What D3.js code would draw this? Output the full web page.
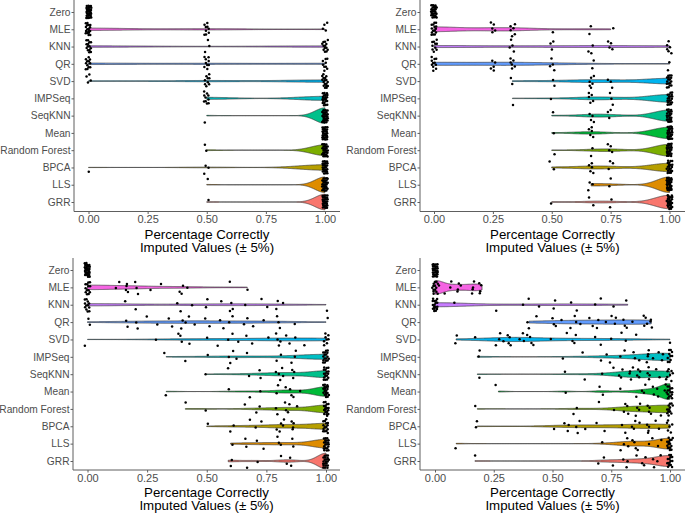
<!DOCTYPE html>
<html><head><meta charset="utf-8">
<script src="https://cdn.jsdelivr.net/npm/d3@7"></script>
<style>
body{margin:0;background:#fff}
svg{display:block}
text{font-family:"Liberation Sans",Arial,Helvetica,sans-serif}
</style>
</head><body>
<svg id="chart" width="685" height="513"></svg>
<script>
// ---------- data ----------
const methods = ["Zero","MLE","KNN","QR","SVD","IMPSeq","SeqKNN","Mean","Random Forest","BPCA","LLS","GRR"];
const methodColors = ["#FF64B0","#F564E3","#C77CFF","#619CFF","#00B4F0","#00BFC4","#00C08B","#00BA38","#7CAE00","#B79F00","#DE8C00","#F8766D"];
const xTicks = [0, 0.25, 0.5, 0.75, 1];
const xTickLabels = ["0.00","0.25","0.50","0.75","1.00"];
const titleLines = ["Percentage Correctly", "Imputed Values (\u00B1 5%)"];

// top-left panel
const panelA = [
  [0,0,0,0,0,0,0,0,0,0,0,0,0,0,0,0,0,0,0,0,0,0,0,0,0,0,0,0,0,0],
  [0,0,0,0,0,0,0,0,0,0,0,0,0,0,0,0,0,0.5,0.5,0.5,0.5,0.5,0.5,0.5,0.5,0.5,1,1,1,1],
  [0,0,0,0,0,0,0,0,0,0,0,0,0,0,0.5,0.5,0.5,1,1,1,1,1,1,1,1,1,1,1,1,1],
  [0,0,0,0,0,0,0,0,0,0,0,0,0.5,0.5,0.5,0.5,0.5,0.5,0.5,0.5,0.5,1,1,1,1,1,1,1,1,1],
  [0,0,0,0,0.5,0.5,0.5,0.5,0.5,0.5,0.5,0.5,0.5,1,1,1,1,1,1,1,1,1,1,1,1,1,1,1,1,1],
  [0.5,0.5,0.5,0.5,0.5,0.5,0.5,0.5,0.5,0.5,1,1,1,1,1,1,1,1,1,1,1,1,1,1,1,1,1,1,1,1],
  [0.5,1,1,1,1,1,1,1,1,1,1,1,1,1,1,1,1,1,1,1,1,1,1,1,1,1,1,1,1,1],
  [1,1,1,1,1,1,1,1,1,1,1,1,1,1,1,1,1,1,1,1,1,1,1,1,1,1,1,1,1,1],
  [0.5,0.5,1,1,1,1,1,1,1,1,1,1,1,1,1,1,1,1,1,1,1,1,1,1,1,1,1,1,1,1],
  [0,0.5,0.5,0.5,1,1,1,1,1,1,1,1,1,1,1,1,1,1,1,1,1,1,1,1,1,1,1,1,1,1],
  [0.5,1,1,1,1,1,1,1,1,1,1,1,1,1,1,1,1,1,1,1,1,1,1,1,1,1,1,1,1,1],
  [0.5,1,1,1,1,1,1,1,1,1,1,1,1,1,1,1,1,1,1,1,1,1,1,1,1,1,1,1,1,1]
];
// top-right panel
const panelB = [
  [0,0,0,0,0,0,0,0,0,0,0,0,0,0,0,0,0,0,0,0,0,0,0,0,0,0,0,0,0,0],
  [0,0,0,0,0,0,0,0,0,0,0,0,0,0,0,0.25,0.25,0.25,0.25,0.25,0.333,0.333,0.333,0.333,0.333,0.333,0.5,0.667,0.667,0.75],
  [0,0,0,0,0,0,0,0,0,0,0.333,0.333,0.333,0.333,0.5,0.5,0.5,0.667,0.667,0.667,0.75,0.75,0.75,0.75,1,1,1,1,1,1],
  [0,0,0,0,0,0,0,0,0,0,0,0.25,0.25,0.25,0.25,0.25,0.333,0.333,0.333,0.333,0.333,0.333,0.5,0.5,0.5,0.5,0.667,0.667,1,1],
  [0.333,0.333,0.5,0.5,0.667,0.667,0.667,0.667,0.667,0.667,0.75,0.75,0.75,1,1,1,1,1,1,1,1,1,1,1,1,1,1,1,1,1],
  [0.333,0.5,0.667,0.667,0.667,0.667,0.667,0.75,0.75,0.75,1,1,1,1,1,1,1,1,1,1,1,1,1,1,1,1,1,1,1,1],
  [0.5,0.667,0.667,0.667,0.667,0.75,0.75,0.75,1,1,1,1,1,1,1,1,1,1,1,1,1,1,1,1,1,1,1,1,1,1],
  [0.5,0.667,0.667,0.667,0.667,0.667,1,1,1,1,1,1,1,1,1,1,1,1,1,1,1,1,1,1,1,1,1,1,1,1],
  [0.5,0.667,0.667,0.75,0.75,0.75,0.75,1,1,1,1,1,1,1,1,1,1,1,1,1,1,1,1,1,1,1,1,1,1,1],
  [0.5,0.5,0.667,0.667,0.667,0.667,0.667,0.75,0.75,0.75,1,1,1,1,1,1,1,1,1,1,1,1,1,1,1,1,1,1,1,1],
  [0.667,0.667,0.667,0.75,0.75,1,1,1,1,1,1,1,1,1,1,1,1,1,1,1,1,1,1,1,1,1,1,1,1,1],
  [0.5,0.667,0.667,0.75,0.75,1,1,1,1,1,1,1,1,1,1,1,1,1,1,1,1,1,1,1,1,1,1,1,1,1]
];
// bottom-left panel
const panelC = [
  [0,0,0,0,0,0,0,0,0,0,0,0,0,0,0,0,0,0,0,0,0,0,0,0,0,0,0,0,0,0],
  [0,0,0,0,0,0,0,0,0,0,0,0,0,0.12,0.14,0.15,0.16,0.17,0.17,0.2,0.2,0.2,0.27,0.32,0.38,0.4,0.4,0.43,0.59,0.67],
  [0,0,0,0,0,0,0,0,0,0,0,0,0.15,0.2,0.38,0.4,0.43,0.5,0.5,0.57,0.6,0.6,0.6,0.67,0.72,0.75,0.8,0.8,0.81,1],
  [0,0,0.17,0.17,0.2,0.2,0.25,0.3,0.33,0.35,0.4,0.4,0.4,0.42,0.45,0.5,0.5,0.55,0.57,0.6,0.62,0.65,0.67,0.7,0.75,0.8,0.8,0.8,0.88,1],
  [0,0.28,0.38,0.4,0.4,0.42,0.5,0.55,0.6,0.6,0.63,0.67,0.7,0.75,0.8,0.8,0.8,0.8,0.83,0.85,0.88,0.9,1,1,1,1,1,1,1,1],
  [0.33,0.4,0.5,0.6,0.6,0.6,0.62,0.67,0.8,0.8,0.85,0.87,0.88,1,1,1,1,1,1,1,1,1,1,1,1,1,1,1,1,1],
  [0.5,0.6,0.67,0.72,0.73,0.8,0.8,0.8,0.82,0.83,0.85,0.86,0.87,1,1,1,1,1,1,1,1,1,1,1,1,1,1,1,1,1],
  [0.33,0.6,0.67,0.72,0.8,0.8,0.82,0.85,0.85,0.87,0.88,1,1,1,1,1,1,1,1,1,1,1,1,1,1,1,1,1,1,1],
  [0.41,0.5,0.67,0.7,0.72,0.8,0.8,0.82,0.83,0.85,0.85,0.87,1,1,1,1,1,1,1,1,1,1,1,1,1,1,1,1,1,1],
  [0.5,0.6,0.62,0.67,0.7,0.73,0.8,0.8,0.8,0.82,0.83,0.85,0.85,0.86,0.87,1,1,1,1,1,1,1,1,1,1,1,1,1,1,1],
  [0.6,0.66,0.67,0.72,0.73,0.8,0.8,0.82,0.85,0.86,1,1,1,1,1,1,1,1,1,1,1,1,1,1,1,1,1,1,1,1],
  [0.59,0.6,0.67,0.72,0.8,0.83,0.85,0.86,1,1,1,1,1,1,1,1,1,1,1,1,1,1,1,1,1,1,1,1,1,1]
];
// bottom-right panel
const panelD = [
  [0,0,0,0,0,0,0,0,0,0,0,0,0,0,0,0,0,0,0,0,0,0,0,0,0,0,0,0,0,0],
  [0,0,0,0,0,0,0,0,0,0,0,0,0,0.005,0.01,0.04,0.07,0.08,0.09,0.1,0.1,0.12,0.15,0.16,0.17,0.17,0.18,0.19,0.2,0.2],
  [0,0,0,0,0,0,0,0,0,0,0,0,0,0,0,0,0,0.09,0.25,0.37,0.4,0.45,0.5,0.5,0.58,0.61,0.67,0.7,0.76,0.82],
  [0.4,0.4,0.42,0.5,0.5,0.52,0.55,0.57,0.6,0.6,0.63,0.65,0.67,0.7,0.7,0.72,0.75,0.77,0.78,0.8,0.8,0.82,0.85,0.88,0.9,0.9,0.9,0.91,0.92,0.92],
  [0.09,0.09,0.18,0.25,0.27,0.28,0.3,0.3,0.31,0.32,0.33,0.35,0.37,0.38,0.4,0.4,0.4,0.42,0.5,0.55,0.58,0.6,0.6,0.67,0.7,0.75,0.8,0.8,0.85,1],
  [0.18,0.19,0.55,0.64,0.7,0.73,0.75,0.8,0.8,0.85,0.85,0.88,0.9,0.9,0.91,0.92,0.92,0.95,0.97,0.98,0.99,1,1,1,1,1,1,1,1,1],
  [0.18,0.55,0.64,0.72,0.75,0.78,0.8,0.8,0.82,0.83,0.83,0.85,0.85,0.86,0.87,0.88,0.9,0.9,0.91,0.92,0.93,0.95,0.99,0.99,1,1,1,1,1,1],
  [0.27,0.55,0.7,0.72,0.8,0.85,0.88,0.9,0.9,0.92,0.93,0.95,0.96,0.97,0.98,0.99,1,1,1,1,1,1,1,1,1,1,1,1,1,1],
  [0.18,0.58,0.6,0.7,0.77,0.8,0.8,0.82,0.83,0.85,0.85,0.87,0.88,0.9,0.9,0.92,0.92,0.95,0.99,1,1,1,1,1,1,1,1,1,1,1],
  [0.18,0.19,0.5,0.55,0.57,0.58,0.6,0.6,0.62,0.65,0.68,0.72,0.8,0.82,0.83,0.85,0.85,0.88,0.9,0.9,0.91,0.92,0.93,0.95,0.99,1,1,1,1,1],
  [0.09,0.72,0.78,0.8,0.82,0.83,0.83,0.85,0.85,0.87,0.9,0.92,0.95,0.97,0.98,0.99,1,1,1,1,1,1,1,1,1,1,1,1,1,1],
  [0.17,0.7,0.73,0.75,0.8,0.82,0.83,0.85,0.88,0.9,0.9,0.92,0.93,0.95,0.97,0.98,1,1,1,1,1,1,1,1,1,1,1,1,1,1]
];

// ---------- layout ----------
const panels = [
  {data: panelA, axisX: 74,  x0: 88.5, x1: 325,   right: 340, yTop: 12,  yBot: 202, axisTop: 0,   axisBottom: 211.5, titleY: 238.5},
  {data: panelB, axisX: 420, x0: 434,  x1: 669.5, right: 685, yTop: 12,  yBot: 202, axisTop: 0,   axisBottom: 211.5, titleY: 238.5},
  {data: panelC, axisX: 73,  x0: 87.5, x1: 326,   right: 340, yTop: 270, yBot: 461, axisTop: 258, axisBottom: 470, titleY: 496.5},
  {data: panelD, axisX: 420, x0: 435,  x1: 670,   right: 685, yTop: 270, yBot: 461, axisTop: 258, axisBottom: 470, titleY: 496.5}
];

// ---------- helpers ----------
function bwNrd0(v) {
  const s = v.slice().sort(d3.ascending);
  const hi = d3.deviation(s) || 0;
  const iqr = d3.quantileSorted(s, 0.75) - d3.quantileSorted(s, 0.25);
  let lo = Math.min(hi, iqr / 1.34);
  if (!lo) lo = hi || Math.abs(s[0]) || 1;
  return 0.9 * lo * Math.pow(s.length, -0.2);
}
function kde(v) {
  const bw = bwNrd0(v);
  const mn = d3.min(v), mx = d3.max(v);
  const N = 512, out = [];
  const norm = v.length * bw * Math.sqrt(2 * Math.PI);
  for (let k = 0; k < N; k++) {
    const t = mn + (mx - mn) * k / (N - 1);
    let s = 0;
    for (const x of v) { const z = (t - x) / bw; s += Math.exp(-0.5 * z * z); }
    out.push([t, s / norm]);
  }
  return out;
}
// deterministic jitter offsets in [-0.5, 0.5)
function jit(i, g, a, b) { const f = (i * a + g * b + 0.37) % 1; return f - 0.5; }

const svg = d3.select("#chart");
const textCol = "#4d4d4d";
const lineCol = "#5e5e5e";

panels.forEach((p, pi) => {
  const g = svg.append("g");
  const x = d3.scaleLinear().domain([0, 1]).range([p.x0, p.x1]);
  const y = d3.scalePoint().domain(methods).range([p.yTop, p.yBot]);
  const step = y.step();

  // densities
  const dens = p.data.map(v => (d3.max(v) > d3.min(v)) ? kde(v) : null);
  const maxD = d3.max(dens.filter(d => d), d => d3.max(d, e => e[1]));

  // violins
  const area = d3.area().curve(d3.curveLinear);
  dens.forEach((d, gi) => {
    if (!d) return;
    const yc = y(methods[gi]);
    area.x(e => x(e[0]))
        .y0(e => yc - e[1] / maxD * 0.45 * step)
        .y1(e => yc + e[1] / maxD * 0.45 * step);
    g.append("path").attr("d", area(d))
      .attr("fill", methodColors[gi])
      .attr("stroke", "#333").attr("stroke-width", 0.7);
  });

  // jittered points
  p.data.forEach((v, gi) => {
    const yc = y(methods[gi]);
    g.append("g").selectAll("circle").data(v).join("circle")
      .attr("cx", (d, i) => x(d + jit(i, gi + pi * 12, 0.7548776662, 0.131) * 0.024))
      .attr("cy", (d, i) => yc + jit(i, gi + pi * 12, 0.5698402910, 0.271) * 0.8 * step)
      .attr("r", 1.25).attr("fill", "#000");
  });

  // axes
  const ax = g.append("g").attr("transform", `translate(0,${p.axisBottom})`)
    .call(d3.axisBottom(x).tickValues(xTicks).tickFormat((d, i) => xTickLabels[i]).tickSize(2.5).tickPadding(1.5));
  ax.select(".domain").remove();
  ax.selectAll("line").attr("stroke", lineCol);
  ax.selectAll("text").attr("fill", textCol).style("font-size", "11px");

  const ay = g.append("g").attr("transform", `translate(${p.axisX},0)`)
    .call(d3.axisLeft(y).tickSize(2.5).tickPadding(1));
  ay.select(".domain").remove();
  ay.selectAll("line").attr("stroke", lineCol);
  ay.selectAll("text").attr("fill", textCol).style("font-size", "10.2px");

  g.append("line").attr("x1", p.axisX).attr("x2", p.right)
    .attr("y1", p.axisBottom).attr("y2", p.axisBottom)
    .attr("stroke", lineCol).attr("stroke-width", 1);
  g.append("line").attr("x1", p.axisX).attr("x2", p.axisX)
    .attr("y1", p.axisTop).attr("y2", p.axisBottom)
    .attr("stroke", lineCol).attr("stroke-width", 1);

  // axis title
  const cx = (p.axisX + p.right) / 2;
  titleLines.forEach((t, li) => {
    g.append("text").attr("x", cx).attr("y", p.titleY + li * 13.6)
      .attr("text-anchor", "middle").attr("fill", "#000")
      .style("font-size", "13.3px").text(t);
  });
});
</script>
</body></html>
